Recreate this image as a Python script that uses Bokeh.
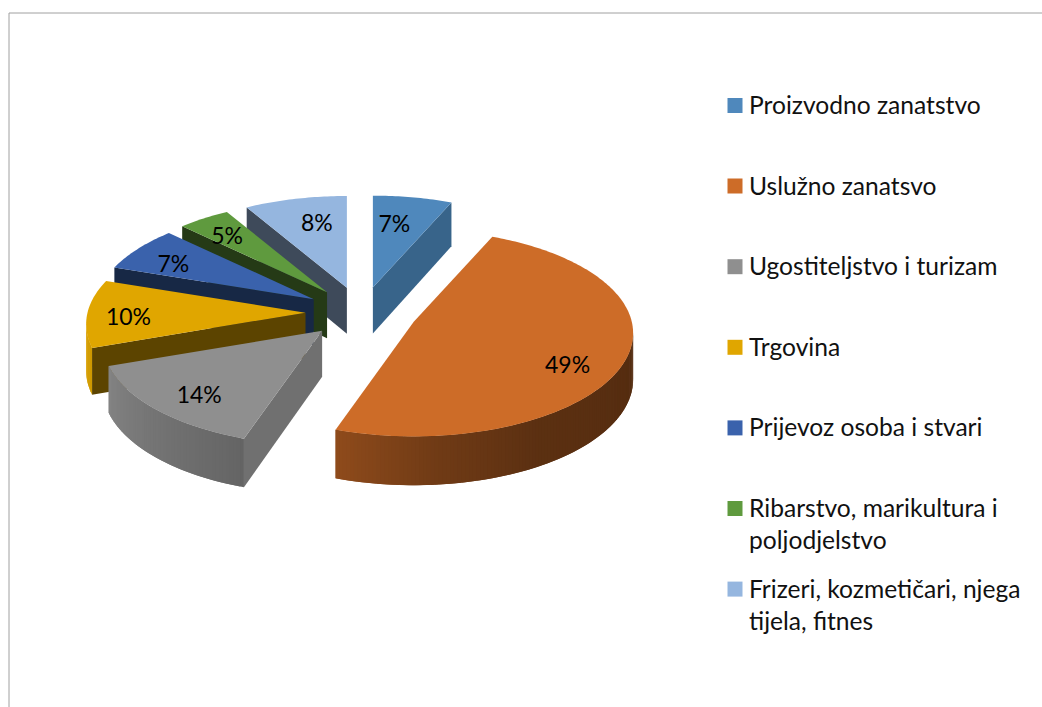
import numpy as np
from bokeh.plotting import figure
from bokeh.models import Range1d
from bokeh.core.properties import value
from bokeh.embed import file_html
from bokeh.resources import INLINE

# --- data ---
categories = ["Proizvodno zanatstvo", "Uslužno zanatsvo", "Ugostiteljstvo i turizam", "Trgovina",
              "Prijevoz osoba i stvari", "Ribarstvo, marikultura i\npoljodjelstvo",
              "Frizeri, kozmetičari, njega\ntijela, fitnes"]
shares = [6.5, 48.7, 14.4, 10.6, 7.1, 4.3, 8.4]
percent_labels = ["7%", "49%", "14%", "10%", "7%", "5%", "8%"]

# --- style ---
top_colors = ["#4f88bc", "#cd6c28", "#8f8f8f", "#e0a600", "#3a62ac", "#5f9a3e", "#95b6df"]
wall_colors = ["#38648a", "#8a4c1e", "#707070", "#5c4400", "#172845", "#253a16", "#3e4a5a"]
legend_colors = ["#4f88bc", "#cd6c28", "#8f8f8f", "#e0a600", "#3a62ac", "#5f9a3e", "#95b6df"]
label_nudge = [(-8, 2), (3, 15), (-6, 8), (-20, 3), (-12, 1), (-9, -3), (8, 0)]
draw_order = [0, 6, 5, 4, 3, 2, 1]
shade_angles = [100, 150, 175, 202, 250, 270, 360]
shade_levels = [0.41, 0.45, 0.55, 0.72, 0.92, 1.0, 1.0]

CX, CY, EXPLODE, TILT = 361, 312, 56, 0.457
RX, RY, PERSP, DEPTH = 218, 102, 0.111, 46
FONT, LEGEND_SIZE, LABEL_SIZE = "Lato", "24.6px", "23px"


def project(theta, r):
    u, v = np.sin(theta) * r, np.cos(theta) * r
    f = 1 / (1 + PERSP * v)
    return RX * u * f, -RY * v * f, DEPTH * np.sqrt(f)


def mix(color, k):
    rgb = [int(color[i:i + 2], 16) for i in (1, 3, 5)]
    return "#%02x%02x%02x" % tuple(int(c * k) for c in rgb)


p = figure(width=1042, height=707, x_range=Range1d(0, 1042), y_range=Range1d(707, 0),
           output_backend="svg", toolbar_location=None, min_border=0)
p.axis.visible = False
p.grid.visible = False
p.outline_line_color = None
p.background_fill_color = "white"

# frame of the original object
p.segment(x0=[8.5, 8.5], y0=[12.5, 12.5], x1=[1042, 8.5], y1=[12.5, 707], line_color="#a0a0a0", line_width=1)

fractions = np.array(shares) / sum(shares)
ends = np.cumsum(fractions) * 2 * np.pi
starts = ends - fractions * 2 * np.pi
mids = (starts + ends) / 2
apex_x = CX + EXPLODE * np.sin(mids)
apex_y = CY - EXPLODE * TILT * np.cos(mids)

xs, ys, fills = [], [], []
for i in draw_order:
    t = np.linspace(starts[i], ends[i], max(8, int(shares[i] * 4)))
    dx, dy, dz = project(t, 1.0)
    rim_x, rim_y = apex_x[i] + dx, apex_y[i] + dy
    # spoke walls (only those facing the viewer)
    for (ax, ay, az, bx, by, bz) in [(apex_x[i], apex_y[i], DEPTH, rim_x[0], rim_y[0], dz[0]),
                                     (rim_x[-1], rim_y[-1], dz[-1], apex_x[i], apex_y[i], DEPTH)]:
        if bx < ax:
            xs.append([ax, bx, bx, ax])
            ys.append([ay, by, by + bz, ay + az])
            fills.append(wall_colors[i])
    # rim wall with shading; each piece overlaps the next so no seams show
    n = len(t)
    for k in range(n - 1):
        if rim_x[k + 1] < rim_x[k]:
            e = min(k + 2, n - 1)
            if rim_x[e] > rim_x[k + 1]:
                e = k + 1
            xs.append([rim_x[k], rim_x[e], rim_x[e], rim_x[k]])
            ys.append([rim_y[k], rim_y[e], rim_y[e] + dz[e], rim_y[k] + dz[k]])
            level = np.interp(np.degrees((t[k] + t[k + 1]) / 2), shade_angles, shade_levels)
            fills.append(mix(top_colors[i], level))
    # top face
    xs.append([apex_x[i], *rim_x])
    ys.append([apex_y[i], *rim_y])
    fills.append(top_colors[i])

p.patches(xs, ys, fill_color=fills, line_color=None)

# data labels
lab_dx, lab_dy, _ = project(mids, 0.72)
lab_x = apex_x + lab_dx + [n[0] for n in label_nudge]
lab_y = apex_y + lab_dy + [n[1] for n in label_nudge]
p.text(lab_x, lab_y, text=percent_labels, text_align="center", text_baseline="middle",
       text_font=value(FONT), text_font_size=LABEL_SIZE, text_color="#000000")

# legend
LEG_Y, LEG_STEP, LEG_LINE = 105, 80.6, 32
sq_y = [LEG_Y + LEG_STEP * i for i in range(len(categories))]
p.rect([734.5] * len(categories), sq_y, width=15, height=15, fill_color=legend_colors, line_color=None)
tx, ty, tt = [], [], []
for name, y in zip(categories, sq_y):
    for j, line in enumerate(name.split("\n")):
        tx.append(748.5); ty.append(y - 1 + j * LEG_LINE); tt.append(line)
p.text(tx, ty, text=tt, text_align="left", text_baseline="middle", text_font=value(FONT),
       text_font_size=LEGEND_SIZE, text_color="#111111")

open("out.html", "w").write(file_html(p, INLINE))
